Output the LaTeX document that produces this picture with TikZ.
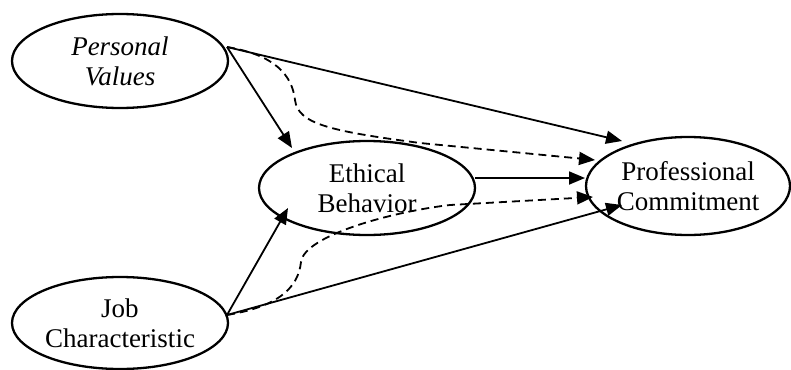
\documentclass[tikz,border=0pt]{standalone}
\usepackage{fontspec}
\setmainfont{Liberation Serif}
\usetikzlibrary{shapes.geometric,arrows.meta,calc}
\begin{document}
\begin{tikzpicture}[x=1pt,y=-1pt,
  var/.style={draw, ellipse, line width=2.3pt, inner sep=0pt, align=center, font=\fontsize{27}{30}\selectfont},
  arr/.style={line width=1.8pt, -{Triangle[length=16pt,width=13pt]}},
  darr/.style={arr, dash pattern=on 8pt off 5pt}]
\useasboundingbox (0,0) rectangle (791,369);
\node[var, minimum width=216pt, minimum height=94pt, font=\itshape\fontsize{27}{30}\selectfont] (pv) at (120,61) {Personal\\Values};
\node[var, minimum width=216pt, minimum height=94pt] (eb) at (367,188) {Ethical\\Behavior};
\node[var, minimum width=204pt, minimum height=98pt] (pc) at (688,186) {Professional\\Commitment};
\node[var, minimum width=216pt, minimum height=92pt] (jc) at (120,323) {Job\\Characteristic};
% endpoints
\coordinate (pvo) at ($(pv.center)+(107,-14)$);
\coordinate (jco) at ($(jc.center)+(107,-8)$);
\coordinate (ebo) at ($(eb.center)+(108,-10)$);
\coordinate (ebt1) at ($(eb.center)+(-75,-40)$);
\coordinate (ebt2) at ($(eb.center)+(-79,20)$);
\coordinate (pct1) at ($(pc.center)+(-66,-45)$);
\coordinate (pct2) at ($(pc.center)+(-93,-26)$);
\coordinate (pct3) at ($(pc.center)+(-103,-8)$);
\coordinate (pct4) at ($(pc.center)+(-95,11)$);
\coordinate (pct5) at ($(pc.center)+(-66,19)$);
\coordinate (b1) at (295,100);
\coordinate (b2) at (420,143);
\coordinate (b3) at (301,262);
\coordinate (b4) at (450,205);
% connectors
\draw[arr] (pvo) -- (ebt1);
\draw[arr] (pvo) -- (pct1);
\draw[darr] (pvo) .. controls (275,55) and (292,75) .. (b1) .. controls (298,124) and (330,131) .. (b2) -- (pct2);
\draw[arr] (ebo) -- (pct3);
\draw[arr] (jco) -- (ebt2);
\draw[arr] (jco) -- (pct5);
\draw[darr] (jco) .. controls (275,307) and (298,290) .. (b3) .. controls (304,236) and (390,212) .. (b4) -- (pct4);
\end{tikzpicture}
\end{document}
